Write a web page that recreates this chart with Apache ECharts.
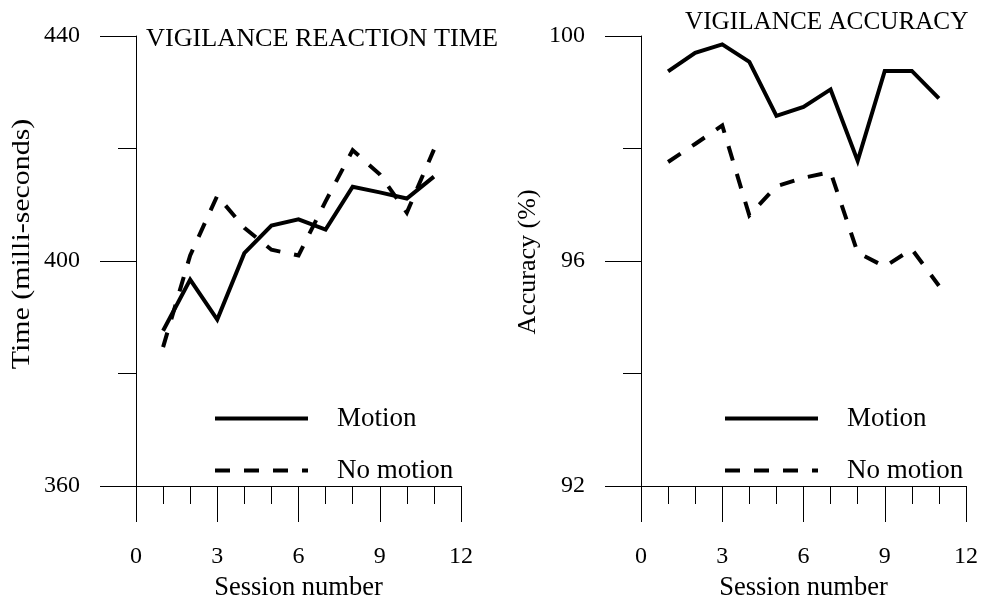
<!DOCTYPE html>
<html>
<head>
<meta charset="utf-8">
<script src="https://cdn.jsdelivr.net/npm/echarts@6/dist/echarts.min.js"></script>
<style>
  html, body { margin: 0; padding: 0; background: #fff; }
  #chart { width: 985px; height: 604px; }
</style>
</head>
<body>
<div id="chart"></div>
<script>
// Session numbers shared by both panels
const sessions = [1, 2, 3, 4, 5, 6, 7, 8, 9, 10, 11];

// Vigilance reaction time (ms)
const rtMotion   = [387.6, 396.7, 389.6, 401.4, 406.3, 407.4, 405.6, 413.2, 412.2, 411.1, 415.0];
const rtNoMotion = [384.7, 401.0, 411.6, 405.9, 402.0, 401.0, 410.6, 419.7, 415.4, 408.6, 419.8];

// Vigilance accuracy (%)
const accMotion   = [99.37, 99.70, 99.85, 99.54, 98.58, 98.74, 99.05, 97.78, 99.38, 99.38, 98.89];
const accNoMotion = [97.76, 98.08, 98.41, 96.81, 97.33, 97.48, 97.58, 96.15, 95.90, 96.21, 95.56];

// Axis ticks
const xTicks = { min: 0, max: 12, interval: 3 };
const rtTicks = { min: 360, max: 440, interval: 40 };
const accTicks = { min: 92, max: 100, interval: 4 };

const FONT = "'Liberation Serif', 'Times New Roman', serif";
const INK = '#000';

const pairs = (ys) => sessions.map((s, i) => [s, ys[i]]);

function xAxis(gridIndex) {
  return {
    type: 'value', gridIndex,
    min: xTicks.min, max: xTicks.max, interval: xTicks.interval,
    name: 'Session number', nameLocation: 'middle', nameGap: 89,
    nameTextStyle: { fontFamily: FONT, fontSize: 26.5, color: INK },
    axisLine: { show: true, lineStyle: { color: INK, width: 1 } },
    axisTick: { show: true, length: 36, lineStyle: { color: INK, width: 1 } },
    minorTick: { show: true, splitNumber: 3, length: 18, lineStyle: { color: INK, width: 1 } },
    axisLabel: { fontFamily: FONT, fontSize: 24, color: INK, margin: 59, showMinLabel: true, showMaxLabel: true },
    splitLine: { show: false }
  };
}

function yAxis(gridIndex, t) {
  return {
    type: 'value', gridIndex,
    min: t.min, max: t.max, interval: t.interval,
    axisLine: { show: true, lineStyle: { color: INK, width: 1 } },
    axisTick: { show: true, length: 36, lineStyle: { color: INK, width: 1 } },
    minorTick: { show: true, splitNumber: 2, length: 18, lineStyle: { color: INK, width: 1 } },
    axisLabel: { fontFamily: FONT, fontSize: 24, color: INK, margin: 56 },
    splitLine: { show: false }
  };
}

function lineSeries(name, idx, ys, dashed) {
  return {
    name, type: 'line',
    xAxisIndex: idx, yAxisIndex: idx,
    data: pairs(ys),
    symbol: 'none',
    silent: true,
    animation: false,
    itemStyle: { color: INK },
    lineStyle: { color: INK, width: 4, type: dashed ? [15, 14] : 'solid', cap: 'butt', join: 'miter' }
  };
}

function legend(left) {
  return {
    orient: 'vertical',
    left, top: 400,
    itemWidth: 93, itemHeight: 14, itemGap: 25,
    selectedMode: false,
    data: ['Motion', 'No motion'],
    itemStyle: { opacity: 0 },
    lineStyle: { width: 4, opacity: 1 },
    textStyle: { fontFamily: FONT, fontSize: 27, color: INK, padding: [0, 0, 0, 24] }
  };
}

const chart = echarts.init(document.getElementById('chart'), null, { renderer: 'canvas' });

chart.setOption({
  backgroundColor: '#fff',
  animation: false,
  title: [
    { text: 'VIGILANCE REACTION TIME', left: 141, top: 21,
      textStyle: { fontFamily: FONT, fontSize: 26.2, fontWeight: 'normal', color: INK } },
    { text: 'VIGILANCE ACCURACY', left: 680, top: 5,
      textStyle: { fontFamily: FONT, fontSize: 25.2, fontWeight: 'normal', color: INK } }
  ],
  grid: [
    { left: 136, top: 36, width: 325, height: 450, outerBoundsMode: 'none', containLabel: false },
    { left: 641, top: 36, width: 325, height: 450, outerBoundsMode: 'none', containLabel: false }
  ],
  xAxis: [xAxis(0), xAxis(1)],
  yAxis: [yAxis(0, rtTicks), yAxis(1, accTicks)],
  legend: [legend(208), legend(718)],
  graphic: [
    { type: 'text', x: 22, y: 244, rotation: Math.PI / 2, scaleX: 1.15,
      style: { text: 'Time (milli-seconds)', fontFamily: FONT, fontSize: 26, fill: INK, align: 'center', verticalAlign: 'middle' } },
    { type: 'text', x: 528, y: 262, rotation: Math.PI / 2,
      style: { text: 'Accuracy (%)', fontFamily: FONT, fontSize: 26, fill: INK, align: 'center', verticalAlign: 'middle' } }
  ],
  series: [
    lineSeries('Motion', 0, rtMotion, false),
    lineSeries('No motion', 0, rtNoMotion, true),
    lineSeries('Motion', 1, accMotion, false),
    lineSeries('No motion', 1, accNoMotion, true)
  ]
});
</script>
</body>
</html>
